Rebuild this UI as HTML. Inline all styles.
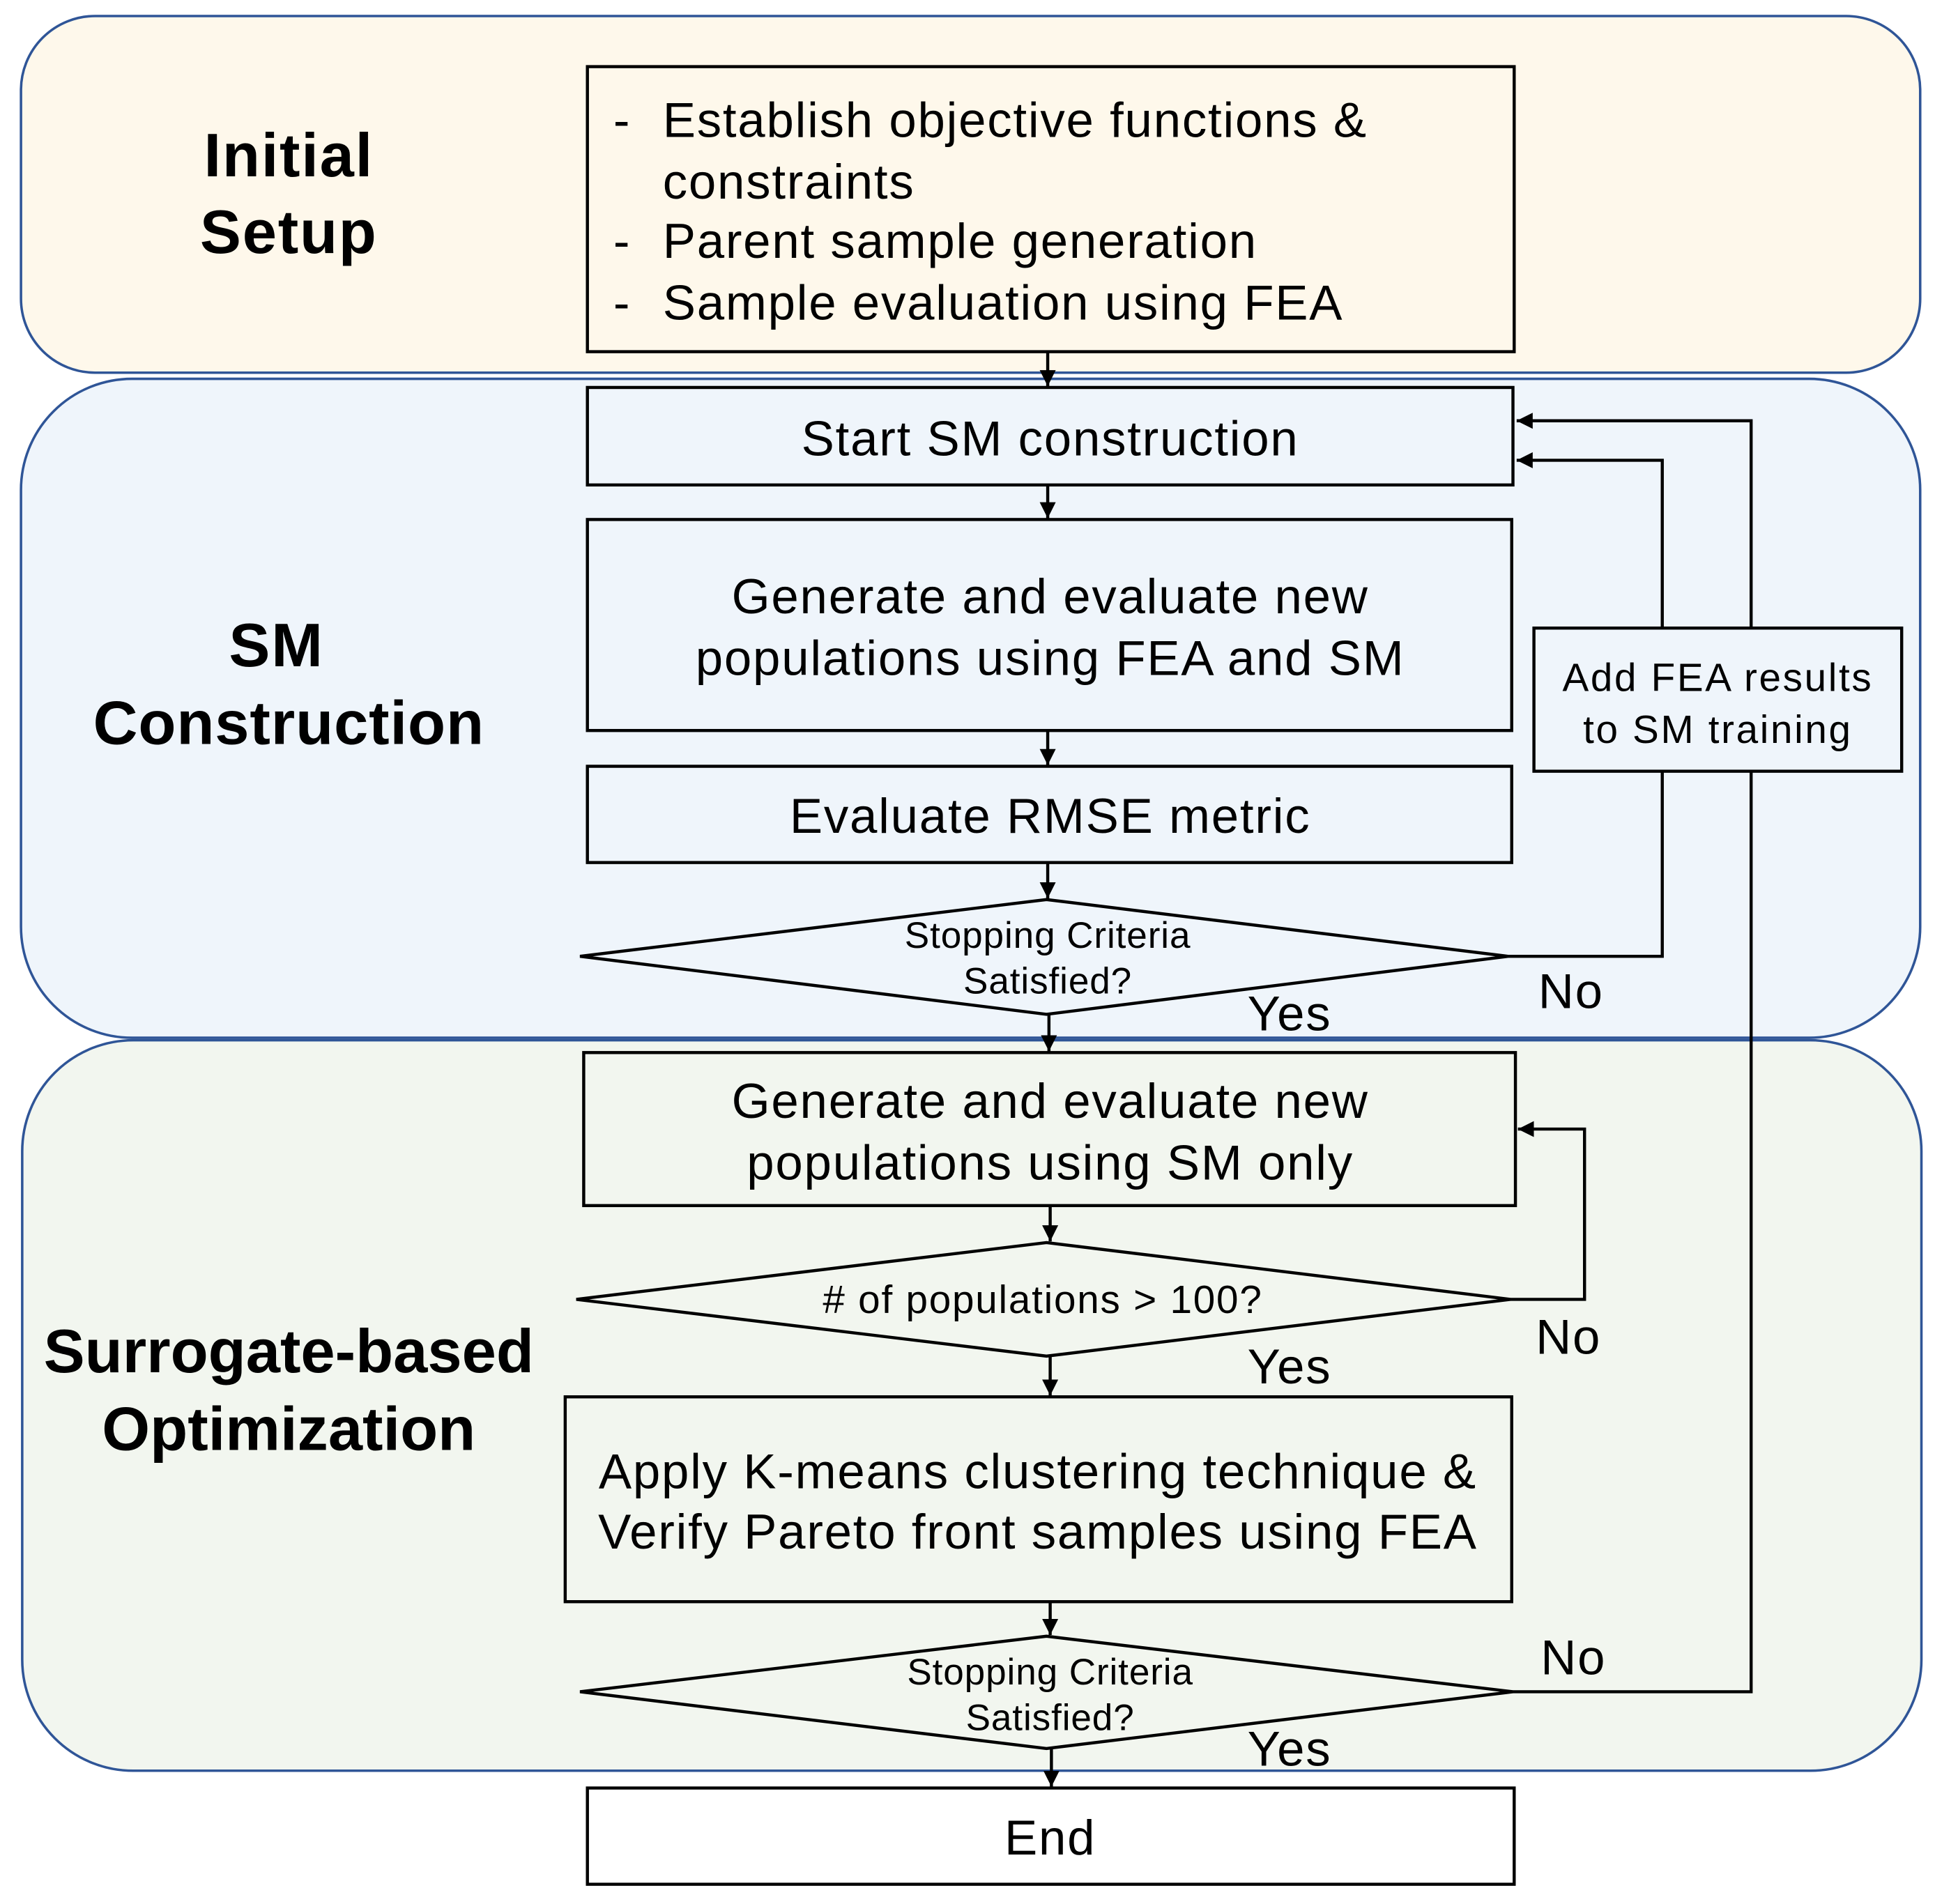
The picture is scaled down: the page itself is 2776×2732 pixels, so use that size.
<!DOCTYPE html>
<html><head><meta charset="utf-8"><style>
html,body{margin:0;padding:0;background:#fff;}
svg{display:block;}
text{font-family:"Liberation Sans","DejaVu Sans",sans-serif;fill:#000;}
</style></head><body>
<svg width="2776" height="2732" viewBox="0 0 1568 1543" preserveAspectRatio="none" xmlns="http://www.w3.org/2000/svg">
<defs>
<marker id="a" viewBox="0 0 10 10" refX="10" refY="5" markerWidth="13" markerHeight="14" orient="auto" markerUnits="userSpaceOnUse">
<path d="M0,0 L10,5 L0,10 z" fill="#000"/></marker>
</defs>
<rect width="1568" height="1543" fill="#fff"/>
<rect x="17" y="13" width="1539" height="289" rx="60" fill="#fef8eb" stroke="#2f5597" stroke-width="2"/>
<rect x="17" y="307" width="1539" height="534" rx="90" fill="#eff5fb" stroke="#2f5597" stroke-width="2"/>
<rect x="18" y="843" width="1539" height="592" rx="90" fill="#f2f6ef" stroke="#2f5597" stroke-width="2"/>

<g font-weight="bold" font-size="50" text-anchor="middle">
<text x="234" y="143" letter-spacing="1">Initial</text><text x="234" y="205" letter-spacing="1">Setup</text>
<text x="224" y="540" letter-spacing="1">SM</text><text x="234" y="603" letter-spacing="0.5">Construction</text>
<text x="234" y="1112">Surrogate-based</text><text x="234" y="1175">Optimization</text>
</g>

<g fill="none" stroke="#000" stroke-width="2.5">
<rect x="476" y="54" width="751" height="231"/>
<rect x="476" y="314" width="750" height="79"/>
<rect x="476" y="421" width="749" height="171"/>
<rect x="476" y="621" width="749" height="78"/>
<polygon points="470,775 848,729 1222,775 848,822"/>
<polygon points="467,1053 848,1007 1224,1053 848,1099"/>
<rect x="473" y="853" width="755" height="124"/>
<rect x="458" y="1132" width="767" height="166"/>
<polygon points="470,1371 848,1326 1226,1371 848,1417"/>
<rect x="476" y="1449" width="751" height="78" fill="#fff"/>
</g>

<g stroke="#000" stroke-width="2.5" fill="none">
<line x1="849" y1="285" x2="849" y2="313" marker-end="url(#a)"/>
<line x1="849" y1="393" x2="849" y2="420" marker-end="url(#a)"/>
<line x1="849" y1="592" x2="849" y2="620" marker-end="url(#a)"/>
<line x1="849" y1="699" x2="849" y2="728" marker-end="url(#a)"/>
<line x1="850" y1="822" x2="850" y2="852" marker-end="url(#a)"/>
<line x1="851" y1="977" x2="851" y2="1006" marker-end="url(#a)"/>
<line x1="851" y1="1099" x2="851" y2="1131" marker-end="url(#a)"/>
<line x1="851" y1="1298" x2="851" y2="1325" marker-end="url(#a)"/>
<line x1="852" y1="1417" x2="852" y2="1448" marker-end="url(#a)"/>
<polyline points="1222,775 1347,775 1347,373 1229,373" marker-end="url(#a)"/>
<polyline points="1226,1371 1419,1371 1419,341 1229,341" marker-end="url(#a)"/>
<polyline points="1224,1053 1284,1053 1284,915 1230,915" marker-end="url(#a)"/>
</g>
<rect x="1243" y="509" width="298" height="116" fill="#eff5fb" stroke="#000" stroke-width="2.5"/>

<g font-size="40" letter-spacing="1">
<text x="497" y="111">-</text><text x="537" y="111">Establish objective functions &amp;</text>
<text x="537" y="161">constraints</text>
<text x="497" y="209">-</text><text x="537" y="209">Parent sample generation</text>
<text x="497" y="259">-</text><text x="537" y="259">Sample evaluation using FEA</text>
</g>
<g font-size="40" text-anchor="middle" letter-spacing="1">
<text x="851" y="369">Start SM construction</text>
<text x="851" y="497">Generate and evaluate new</text>
<text x="851" y="547">populations using FEA and SM</text>
<text x="851" y="675">Evaluate RMSE metric</text>
<text x="851" y="906">Generate and evaluate new</text>
<text x="851" y="956">populations using SM only</text>
<text x="841" y="1206">Apply K-means clustering technique &amp;</text>
<text x="841" y="1255">Verify Pareto front samples using FEA</text>
<text x="851" y="1503">End</text>
<text x="1273" y="817">No</text>
<text x="1045" y="835">Yes</text>
<text x="1271" y="1097">No</text>
<text x="1045" y="1121">Yes</text>
<text x="1275" y="1357">No</text>
<text x="1045" y="1431">Yes</text>
</g>
<g font-size="32" text-anchor="middle" letter-spacing="1.5">
<text x="1392" y="560">Add FEA results</text>
<text x="1392" y="602">to SM training</text>
<text x="845" y="1064" letter-spacing="1">#  of populations  &gt;  100?</text>
</g>
<g font-size="30" text-anchor="middle" letter-spacing="0.5">
<text x="849" y="768">Stopping Criteria</text>
<text x="849" y="805">Satisfied?</text>
<text x="851" y="1365">Stopping Criteria</text>
<text x="851" y="1402">Satisfied?</text>
</g>
</svg>
</body></html>
